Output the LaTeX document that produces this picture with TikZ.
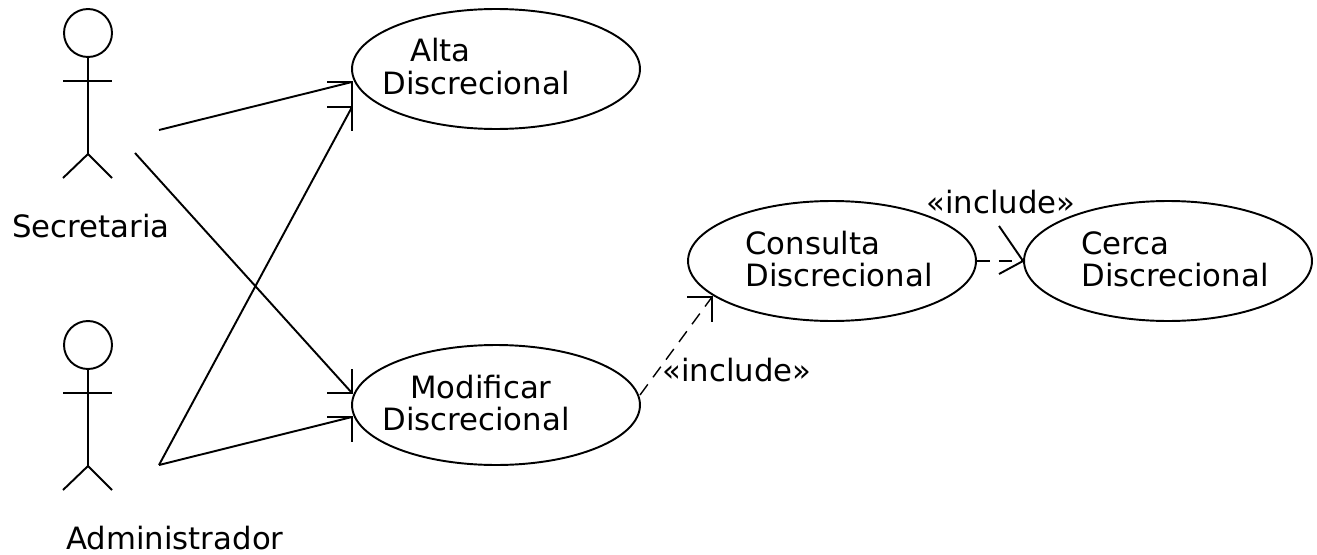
\documentclass[tikz,border=0pt]{standalone}
\usepackage{fontspec}
\setmainfont{DejaVu Sans}
\usetikzlibrary{shapes.geometric}

\begin{document}
\begin{tikzpicture}[x=0.02cm,y=-0.02cm]

  \tikzstyle{normalLine} = [line width=1.1pt, black];
  \tikzstyle{includeLine} = [line width=0.8pt, black, dash pattern=on 7.5pt off 5pt];
  \tikzstyle{headLine} = [line width=1.1pt, black];
  \tikzstyle{useCase} = [draw, ellipse, line width=1.1pt, minimum width=5.76cm, minimum height=2.4cm, inner sep=0pt];
  \tikzstyle{caseText} = [anchor=base west, font=\fontsize{17.5pt}{20pt}\selectfont, inner sep=0pt];
  \tikzstyle{actorHead} = [draw, circle, line width=1.1pt, minimum size=0.96cm, inner sep=0pt];

  \useasboundingbox (0,0) rectangle (1317,554);

  % actors
  \node[actorHead] (headSec) at (88,33) {};
  \coordinate (hipSec) at (88,154);
  \draw[normalLine] (headSec) -- (hipSec);
  \draw[normalLine] (63,81) -- (112,81);
  \draw[normalLine] (63,178) -- (hipSec) -- (112,178);
  \node[caseText] (secretaria) at (12,237) {Secretaria};

  \node[actorHead] (headAdm) at (88,345) {};
  \coordinate (hipAdm) at (88,466);
  \draw[normalLine] (headAdm) -- (hipAdm);
  \draw[normalLine] (63,393) -- (112,393);
  \draw[normalLine] (63,490) -- (hipAdm) -- (112,490);
  \node[caseText] (administrador) at (66,549) {Administrador};

  % use cases
  \node[useCase] (alta) at (496,69) {};
  \node[useCase] (modificar) at (496,405) {};
  \node[useCase] (consulta) at (832,261) {};
  \node[useCase] (cerca) at (1168,261) {};

  \node[caseText] (altaA) at (410,62) {Alta};
  \node[caseText] (altaB) at (382,94) {Discrecional};
  \node[caseText] (modificarA) at (410,398) {Modificar};
  \node[caseText] (modificarB) at (382,430) {Discrecional};
  \node[caseText] (consultaA) at (745,254) {Consulta};
  \node[caseText] (consultaB) at (745,286) {Discrecional};
  \node[caseText] (cercaA) at (1081,254) {Cerca};
  \node[caseText] (cercaB) at (1081,286) {Discrecional};

  % free ends and arrow tips
  \coordinate (fromSecA) at (159,130);
  \coordinate (fromSecB) at (135,153);
  \coordinate (fromAdm) at (159,465);
  \coordinate (fromMod) at (640,395);
  \coordinate (tipAltaA) at (352,82);
  \coordinate (tipAltaB) at (352,107);
  \coordinate (tipModA) at (352,393);
  \coordinate (tipModB) at (352,417);
  \coordinate (tipCons) at (712,297);

  \draw[normalLine] (fromSecA) -- (tipAltaA);
  \draw[normalLine] (fromSecB) -- (tipModA);
  \draw[normalLine] (fromAdm) -- (tipAltaB);
  \draw[normalLine] (fromAdm) -- (tipModB);
  \draw[includeLine] (fromMod) -- (tipCons);
  \draw[includeLine] (consulta.east) -- (cerca.west);

  \draw[headLine] (327,82) -- (tipAltaA) -- (352,107);
  \draw[headLine] (327,107) -- (tipAltaB) -- (352,131);
  \draw[headLine] (327,393) -- (tipModA) -- (352,369);
  \draw[headLine] (327,417) -- (tipModB) -- (352,442);
  \draw[headLine] (687,297) -- (tipCons) -- (712,322);
  \draw[headLine] (999,226) -- (cerca.west) -- (999,274);

  % labels
  \node[caseText] (includeA) at (662,381) {<<include>>};
  \node[caseText] (includeB) at (926,213) {<<include>>};

\end{tikzpicture}
\end{document}
